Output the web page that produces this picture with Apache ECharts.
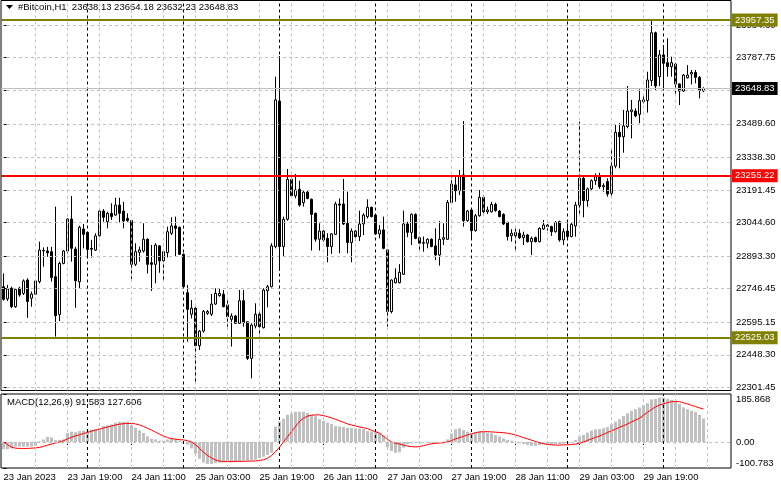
<!DOCTYPE html>
<html><head><meta charset="utf-8">
<script src="https://cdn.jsdelivr.net/npm/echarts@6/dist/echarts.min.js"></script>
<style>html,body{margin:0;padding:0;background:#fff;}#c{width:781px;height:489px;}</style>
</head><body><div id="c"></div>
<script>
// ---- data ----
const symbolTitle = '#Bitcoin,H1  23638.13 23654.18 23632.23 23648.83';
const macdTitle = 'MACD(12,26,9) 91.583 127.606';
const xTickBars = [0,16,32,48,64,80,96,112,128,144,160];
const xTickLabels = ['23 Jan 2023','23 Jan 19:00','24 Jan 11:00','25 Jan 03:00','25 Jan 19:00','26 Jan 11:00','27 Jan 03:00','27 Jan 19:00','28 Jan 11:00','29 Jan 03:00','29 Jan 19:00'];
const priceTicks = [23934.60,23787.75,23640.90,23489.60,23338.30,23191.45,23044.60,22893.30,22746.45,22595.15,22448.30,22301.45];
const macdTicks = [-100.783,0,185.868];
const macdTickLabels = ['-100.783','0.00','185.868'];
const resistanceLevel = 23957.35;
const pivotLevel = 23255.22;
const supportLevel = 22525.03;
const bidPrice = 23648.83;
const gridBars = [8,16,24,32,40,48,56,64,72,80,88,96,104,112,120,128,136,144,152,160,168,176];
const daySeparators = [21,45,69,93,117,141,165];

const opens = [22755,22700,22748,22665,22748,22725,22785,22703,22721,22778,22916,22916,22913,22800,22630,22860,22916,23060,22925,22777,23015,23000,22928,22920,22985,23096,23048,23086,23078,23123,
23096,23063,23053,22856,22910,22916,22969,22863,22856,22939,22872,22909,22996,23029,23023,22901,22728,22631,22658,22489,22555,22635,22631,22677,22715,22721,22673,22608,22623,22590,
22692,22597,22432,22578,22631,22570,22737,22755,22936,23592,22936,23059,23239,23165,23194,23134,23181,23149,23086,22969,23006,22973,22936,22991,23128,23128,23041,22954,23006,22981,
23038,23071,23113,23078,22993,23011,22921,22643,22773,22773,22811,23038,23000,23081,22976,22951,22951,22969,22939,22898,22969,22969,23135,23214,23188,23259,23053,23101,23008,23075,
23158,23093,23093,23126,23096,23081,23045,22985,22985,22996,22976,22988,22958,22976,22958,23015,23033,23026,23003,23048,22966,23006,22981,23029,23123,23244,23143,23196,23233,23251,
23206,23229,23176,23299,23451,23431,23477,23544,23547,23532,23589,23594,23684,23900,23702,23800,23765,23747,23759,23669,23637,23697,23714,23721,23699,23638.13];
const highs = [22815,22763,22755,22748,22755,22788,22793,22733,22785,22958,22932,22935,22935,23116,22868,22920,23063,23164,22935,23030,23038,23003,22966,22996,23101,23105,23093,23131,23156,23156,
23138,23086,23056,22951,22936,23041,22973,22943,22951,22943,22921,23026,23068,23071,23026,22905,22763,22695,22662,22560,22650,22650,22722,22748,22748,22740,22703,22635,22628,22740,
22740,22597,22590,22680,22650,22748,22763,22951,23702,23795,23071,23286,23247,23263,23233,23191,23188,23153,23089,23041,23011,22996,22996,23138,23153,23241,23184,23018,23011,23098,
23086,23149,23116,23083,23033,23071,22924,22788,22838,22857,23098,23048,23086,23086,22981,22981,22973,22973,23018,23051,23041,23146,23251,23251,23281,23502,23101,23108,23083,23191,
23168,23116,23138,23134,23101,23086,23048,23014,23018,23014,23003,22993,22981,22981,23023,23056,23038,23030,23051,23053,23018,23041,23044,23138,23499,23251,23202,23239,23266,23269,
23221,23244,23374,23489,23492,23552,23660,23597,23559,23645,23619,23724,23953,23905,23822,23845,23875,23792,23765,23672,23714,23754,23732,23732,23705,23654.18];
const lows = [22692,22691,22658,22660,22710,22718,22615,22665,22718,22770,22845,22890,22778,22530,22600,22856,22905,22868,22660,22747,22928,22883,22886,22916,22981,23048,23018,23056,23075,23045,
23018,23048,22790,22848,22868,22909,22815,22736,22770,22818,22785,22887,22988,22890,22898,22752,22507,22612,22327,22470,22548,22628,22623,22673,22710,22662,22575,22485,22587,22587,
22575,22425,22342,22567,22530,22567,22662,22752,22928,22827,22890,23053,23161,23153,23116,23116,23149,22918,22958,22918,22958,22865,22903,22988,22906,23033,22906,22865,22963,22961,
22988,23063,23068,22988,22973,22924,22575,22635,22770,22770,22808,22978,22943,22969,22916,22913,22928,22933,22875,22850,22943,22966,23131,23138,23168,23026,23048,22973,23003,23071,
23086,23083,23089,23093,23068,23033,22963,22958,22918,22970,22943,22954,22898,22955,22955,23011,23008,22984,22999,22958,22943,22973,22978,22981,23078,23068,23116,23186,23214,23196,
23183,23161,23165,23289,23289,23359,23469,23424,23519,23492,23582,23540,23660,23642,23660,23649,23702,23702,23624,23574,23633,23694,23667,23672,23604,23632.23];
const closes = [22698,22745,22665,22743,22718,22781,22688,22722,22781,22920,22919,22908,22796,22624,22860,22916,23060,22928,22782,23023,22991,22923,22924,22984,23096,23068,23086,23071,23123,23086,
23051,23053,22856,22913,22921,22969,22856,22856,22943,22871,22913,23003,23029,23018,22901,22755,22653,22658,22489,22555,22643,22643,22677,22725,22725,22665,22620,22623,22590,22692,
22593,22432,22582,22631,22575,22740,22755,22939,23597,22936,23059,23239,23165,23191,23123,23181,23153,23081,22969,23006,22966,22936,22993,23128,23123,23038,22954,23006,22981,23038,
23078,23113,23071,22993,23011,22928,22643,22785,22793,22820,23038,23000,23081,22973,22951,22954,22969,22936,22898,22969,22976,23135,23218,23188,23251,23053,23096,23008,23075,23158,
23093,23101,23126,23098,23071,23038,22981,22996,23000,22976,22988,22958,22973,22958,23018,23033,23026,23003,23045,22966,23003,22981,23036,23123,23244,23143,23196,23233,23251,23206,
23211,23173,23299,23451,23431,23480,23547,23552,23525,23594,23597,23687,23900,23660,23800,23762,23747,23765,23669,23637,23709,23709,23721,23699,23640,23648.83];

const macdMain = [-28,-28,-25,-18,-18,-18,-18,-18,-15,3,10,20,18,7,8,10,35,40,38,42,44,45,48,50,52,62,65,68,75,78,
78,78,65,55,45,35,22,12,10,5,5,10,15,12,5,0,-10,-25,-45,-65,-80,-85,-85,-82,-80,-78,-78,-78,-78,-75,
-72,-72,-70,-68,-62,-57,-50,-42,60,79,90,105,110,117,117,117,112,105,100,88,82,75,70,62,60,58,55,54,53,52,
50,42,40,38,34,25,-20,-35,-42,-40,-22,-8,-5,-3,-3,-2,-2,-3,-3,-2,2,10,33,49,53,46,40,34,36,40,
40,36,34,27,21,14,8,5,0,-5,-8,-12,-15,-15,-12,-8,-8,-9,-8,-8,-6,-5,-3,8,21,27,36,44,49,50,
53,57,68,79,88,101,111,121,127,134,143,150,165,167,172,172,167,163,156,147,134,127,121,116,105,91.583];
const macdSignal = [0,-10,-20,-24,-25,-25,-25,-24,-23,-21,-17,-12,-8,-4,0,5,12,18,24,28,33,37,42,46,50,54,58,62,66,69,
71,72,72,70,66,60,53,46,38,30,23,17,13,11,9,8,5,0,-10,-25,-40,-52,-62,-70,-74,-76,-76,-76,-75,-75,
-75,-74,-74,-73,-72,-69,-63,-52,-38,-20,0,20,40,60,80,92,100,104,105,105,102,98,93,88,82,76,70,66,62,58,
55,52,45,40,34,22,10,0,-5,-8,-12,-16,-18,-19,-18,-14,-10,-7,-5,-4,-3,0,5,12,17,22,27,32,36,39,
40,40,39,38,37,36,34,31,27,22,17,12,7,2,-3,-7,-10,-11,-12,-12,-11,-11,-10,-8,-5,0,6,12,18,23,
30,37,43,50,57,63,70,78,85,92,104,115,126,136,143,148,153,156,157,156,152,147,142,137,132,127.606];

// ---- chart ----
const FONT = 'Liberation Sans';
const FS = 9.5;
const X_MIN = -0.625, X_MAX = 181.875;
const candleData = opens.map((o, i) => [i, o, closes[i], lows[i], highs[i]]);
const macdData = macdMain.map((v, i) => [i, v]);
const sigData = macdSignal.map((v, i) => [i, v]);
const grayDash = {color: '#c0c0c0', type: [3, 3], width: 1};
const blackDash = {color: '#000', type: [3, 3], width: 1};

function levelLabel(text, bg) {
  return {show: true, position: 'end', distance: 1, formatter: text, backgroundColor: bg,
    color: '#fff', padding: [2, 3, 1, 3], fontSize: FS, fontFamily: FONT};
}

const chart = echarts.init(document.getElementById('c'), null, {renderer: 'canvas'});
chart.setOption({
  animation: false,
  backgroundColor: '#fff',
  textStyle: {fontFamily: FONT},
  grid: [
    {left: 1, top: 0.5, width: 730, height: 390, show: true, borderColor: '#000', borderWidth: 1, backgroundColor: 'transparent'},
    {left: 1, top: 394, width: 730, height: 74, show: true, borderColor: '#000', borderWidth: 1, backgroundColor: 'transparent'}
  ],
  xAxis: [
    {type: 'value', gridIndex: 0, min: X_MIN, max: X_MAX, show: false},
    {type: 'value', gridIndex: 1, min: X_MIN, max: X_MAX,
      axisLine: {show: false}, splitLine: {show: false},
      axisTick: {show: true, customValues: xTickBars, length: 3, lineStyle: {color: '#000'}},
      axisLabel: {customValues: xTickBars, formatter: v => xTickLabels[xTickBars.indexOf(v)] || '',
        align: 'left', margin: 4, color: '#000', fontSize: FS, fontFamily: FONT}}
  ],
  yAxis: [
    {type: 'value', gridIndex: 0, position: 'right', min: 22287.14, max: 24045.26,
      axisLine: {show: false}, splitLine: {show: false},
      axisTick: {show: true, customValues: priceTicks, length: 3, lineStyle: {color: '#000'}},
      axisLabel: {customValues: priceTicks, formatter: v => Number(v).toFixed(2), margin: 5,
        color: '#000', fontSize: FS, fontFamily: FONT}},
    {type: 'value', gridIndex: 1, position: 'right', min: -100.783, max: 185.868,
      axisLine: {show: false}, splitLine: {show: false},
      axisTick: {show: true, customValues: macdTicks, length: 3, lineStyle: {color: '#000'}},
      axisLabel: {customValues: macdTicks, formatter: v => macdTickLabels[macdTicks.indexOf(v)] || Number(v).toFixed(3),
        margin: 5, color: '#000', fontSize: FS, fontFamily: FONT,
        verticalAlignMinLabel: 'bottom', verticalAlignMaxLabel: 'top'}}
  ],
  series: [
    {type: 'line', xAxisIndex: 0, yAxisIndex: 0, data: [], z: 1, silent: true,
      markLine: {silent: true, animation: false, symbol: ['none', 'none'], label: {show: false},
        lineStyle: grayDash,
        data: [
          ...gridBars.map(b => ({xAxis: b})),
          ...priceTicks.map(p => ({yAxis: p})),
          ...daySeparators.map(b => ({xAxis: b, lineStyle: blackDash})),
          {yAxis: bidPrice, lineStyle: {color: '#c0c0c0', type: 'solid', width: 1}, label: levelLabel('23648.83', '#000')}
        ]}},
    {type: 'candlestick', xAxisIndex: 0, yAxisIndex: 0, z: 2, barWidth: 3,
      encode: {x: 0, y: [1, 2, 3, 4]},
      itemStyle: {color: '#fff', color0: '#000', borderColor: '#000', borderColor0: '#000', borderWidth: 1},
      data: candleData},
    {type: 'line', xAxisIndex: 0, yAxisIndex: 0, data: [], z: 3, silent: true,
      markLine: {silent: true, animation: false, symbol: ['none', 'none'],
        data: [
          {yAxis: resistanceLevel, lineStyle: {color: '#808000', type: 'solid', width: 2}, label: levelLabel('23957.35', '#808000')},
          {yAxis: pivotLevel, lineStyle: {color: '#ff0000', type: 'solid', width: 2}, label: levelLabel('23255.22', '#ff0000')},
          {yAxis: supportLevel, lineStyle: {color: '#808000', type: 'solid', width: 2}, label: levelLabel('22525.03', '#808000')}
        ]}},
    {type: 'line', xAxisIndex: 1, yAxisIndex: 1, data: [], z: 1, silent: true,
      markLine: {silent: true, animation: false, symbol: ['none', 'none'], label: {show: false},
        lineStyle: grayDash,
        data: [
          ...gridBars.map(b => ({xAxis: b})),
          {yAxis: 0},
          ...daySeparators.map(b => ({xAxis: b, lineStyle: blackDash}))
        ]}},
    {type: 'bar', xAxisIndex: 1, yAxisIndex: 1, z: 2, barWidth: 3, data: macdData,
      itemStyle: {color: '#c0c0c0'}},
    {type: 'line', xAxisIndex: 1, yAxisIndex: 1, z: 3, data: sigData, symbol: 'none',
      lineStyle: {color: '#ff0000', width: 1}}
  ],
  graphic: [
    {type: 'polygon', shape: {points: [[6, 5], [13, 5], [9.5, 9]]}, style: {fill: '#000'}},
    {type: 'text', left: 18, top: 2, style: {text: symbolTitle, font: FS + 'px ' + FONT, fill: '#000'}},
    {type: 'text', left: 7, top: 397, style: {text: macdTitle, font: FS + 'px ' + FONT, fill: '#000'}}
  ]
});
</script>
</body></html>
